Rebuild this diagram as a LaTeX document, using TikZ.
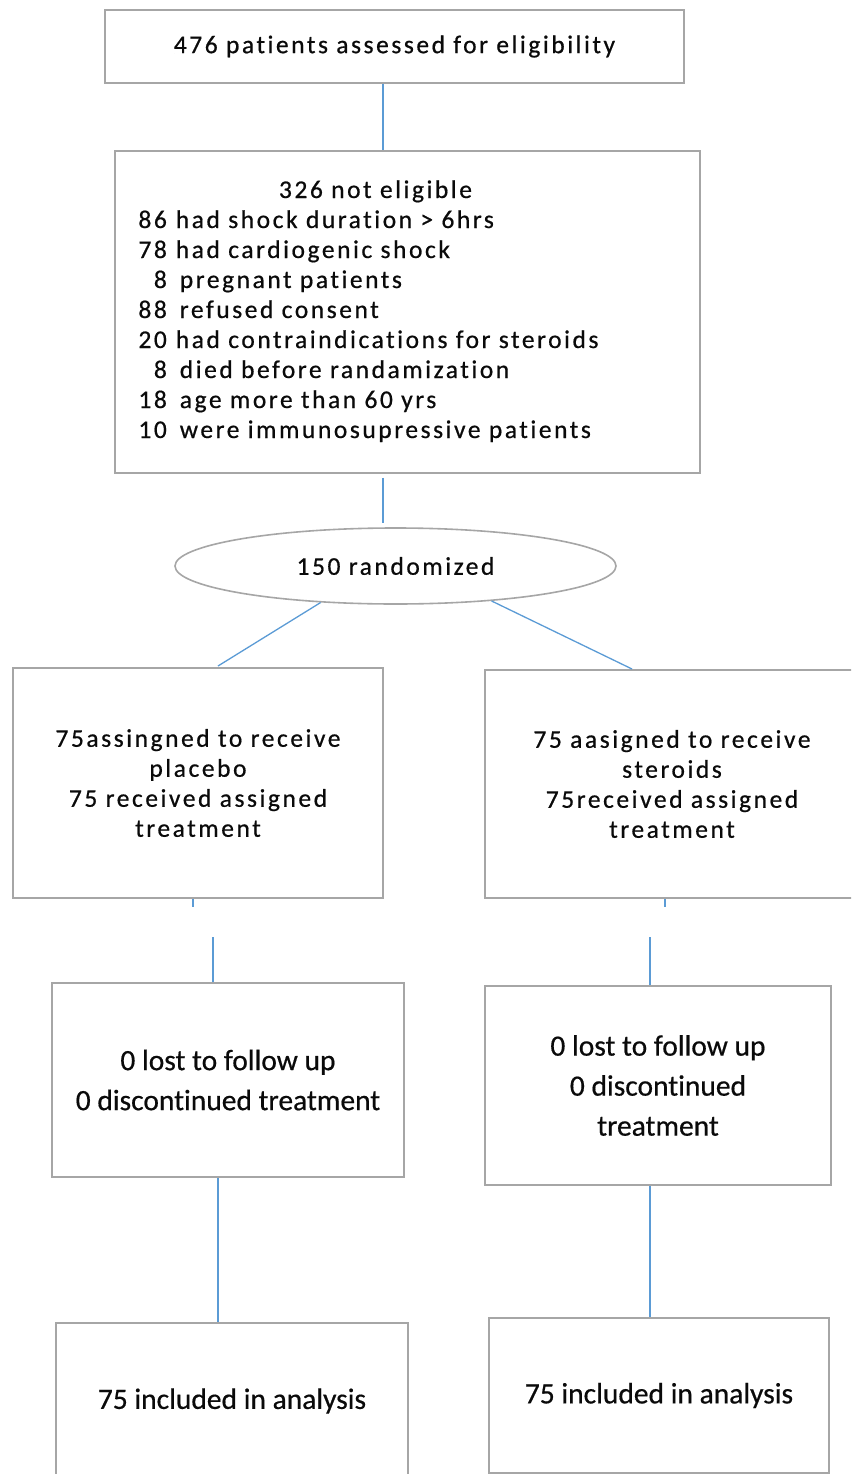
\documentclass[tikz,border=0pt]{standalone}
\usepackage{fontspec}
\setmainfont{Carlito}
\newfontfamily\anchafont{Carlito}[LetterSpace=10, FakeBold=0.6, Ligatures=NoCommon]
\newfontfamily\estrechafont{Carlito}[FakeBold=0.5, Ligatures=NoCommon]
\usetikzlibrary{shapes.geometric}
\definecolor{grisborde}{RGB}{166,166,166}
\definecolor{azullinea}{RGB}{91,155,213}
\definecolor{negrotexto}{RGB}{10,10,10}

\tikzset{
    caja/.style={draw=grisborde, line width=1.6pt, fill=white, text=negrotexto, align=center, inner sep=0pt},
    cajaancha/.style={caja, font=\anchafont\fontsize{25.5}{30}\selectfont},
    cajaestrecha/.style={caja, font=\estrechafont\fontsize{29.5}{40}\selectfont},
    enlace/.style={draw=azullinea, line width=1.3pt}
}

\begin{document}
\begin{tikzpicture}[x=1pt, y=-1pt]
    \useasboundingbox (0,0) rectangle (851,1474);
    \clip (0,0) rectangle (851,1474);

    \node[cajaancha, minimum width=579pt, minimum height=73pt] (evaluados) at (394.5,46.5)
        {476 patients assessed for eligibility};
    \node[cajaancha, minimum width=585pt, minimum height=322pt] (noelegibles) at (407.5,312) {%
        \begin{tabular}{@{}r@{\hspace{9pt}}l@{\hspace{78pt}}}
        \multicolumn{2}{c@{\hspace{78pt}}}{\hspace{8pt}326 not eligible}\\
        86 & had shock duration > 6hrs\\
        78 & had cardiogenic shock\\
        8 & \hspace{4pt}pregnant patients\\
        88 & \hspace{4pt}refused consent\\
        20 & had contraindications for steroids\\
        8 & \hspace{4pt}died before randamization\\
        18 & \hspace{4pt}age more than 60 yrs\\
        10 & \hspace{4pt}were immunosupressive patients
        \end{tabular}};
    \node[cajaancha, ellipse, minimum width=441pt, minimum height=76pt] (aleatorio) at (395.5,566)
        {150 randomized};

    \node[cajaancha, minimum width=370pt, minimum height=230pt] (placebo) at (198,783)
        {75assingned to receive\\placebo\\75 received assigned\\treatment};
    \node[cajaancha, minimum width=374pt, minimum height=228pt] (esteroides) at (672,784)
        {75 aasigned to receive\\steroids\\75received assigned\\treatment};

    \node[cajaestrecha, minimum width=352pt, minimum height=194pt] (seguimientoA) at (228,1080)
        {0 lost to follow up\\0 discontinued treatment};
    \node[cajaestrecha, minimum width=346pt, minimum height=199pt] (seguimientoB) at (658,1085.5)
        {0 lost to follow up\\0 discontinued\\treatment};

    \node[cajaestrecha, minimum width=352pt, minimum height=156pt] (analisisA) at (232,1401)
        {75 included in analysis};
    \node[cajaestrecha, minimum width=340pt, minimum height=155pt] (analisisB) at (659,1395.5)
        {75 included in analysis};

    \coordinate (eje) at (383,0);
    \coordinate (ramaA) at (218,666);
    \coordinate (ramaB) at (632,669);
    \coordinate (cortoA) at (193,0);
    \coordinate (cortoB) at (665,0);
    \coordinate (sigueA) at (213,0);
    \coordinate (sigueB) at (650,0);
    \coordinate (finA) at (218,0);

    \draw[enlace] (evaluados.south -| eje) -- (noelegibles.north -| eje);
    \draw[enlace, shorten <=4pt, shorten >=4pt] (noelegibles.south -| eje) -- (aleatorio.north -| eje);
    \draw[enlace] (aleatorio.206) -- (ramaA);
    \draw[enlace] (aleatorio.340) -- (ramaB);
    \draw[enlace] (placebo.south -| cortoA) -- ++(0,8);
    \draw[enlace] (esteroides.south -| cortoB) -- ++(0,8);
    \draw[enlace] (seguimientoA.north -| sigueA) -- ++(0,-45);
    \draw[enlace] (seguimientoB.north -| sigueB) -- ++(0,-48);
    \draw[enlace] (seguimientoA.south -| finA) -- (analisisA.north -| finA);
    \draw[enlace] (seguimientoB.south -| sigueB) -- (analisisB.north -| sigueB);
\end{tikzpicture}
\end{document}
